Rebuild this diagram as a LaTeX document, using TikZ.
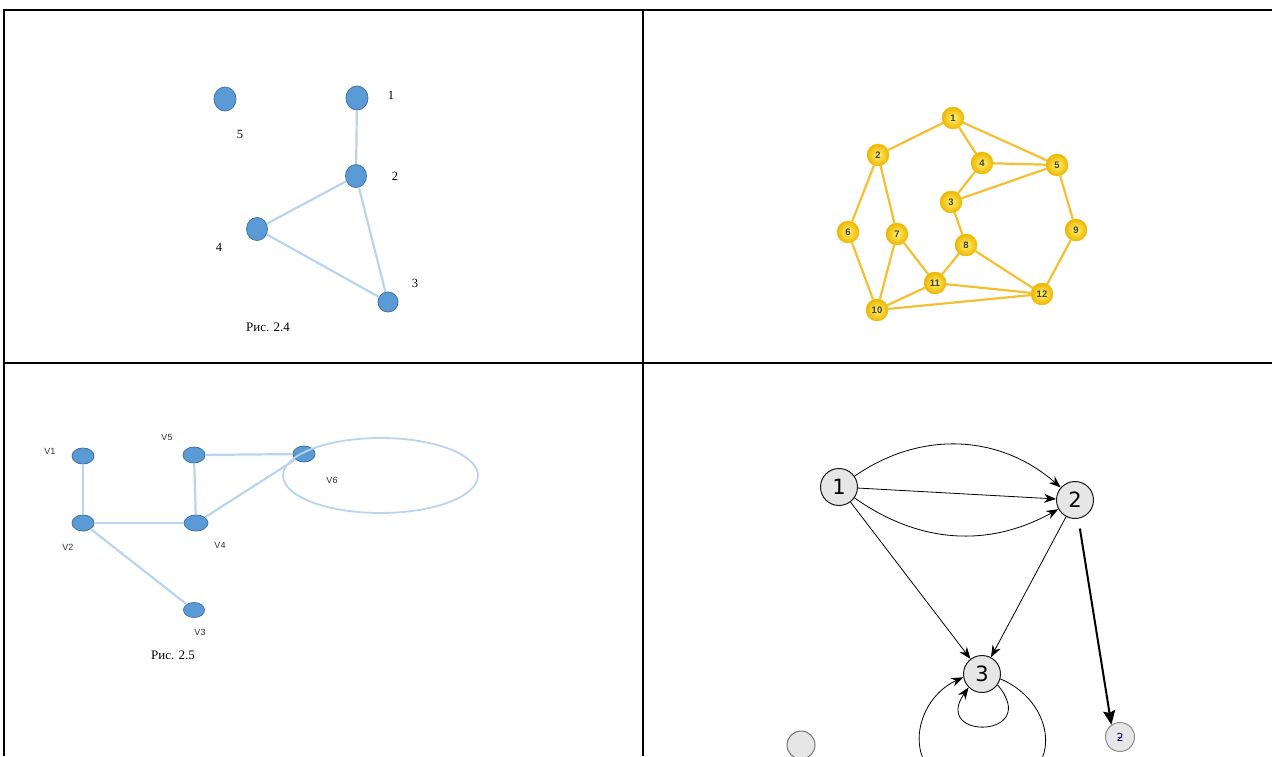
\documentclass[tikz,border=0pt]{standalone}
\usepackage{fontspec}
\setmainfont{Liberation Serif}
\setsansfont{Liberation Sans}
\newfontfamily\dejavu{DejaVu Sans}
\usetikzlibrary{shapes.geometric,arrows.meta}

\definecolor{nodeblue}{RGB}{91,155,213}
\definecolor{nodeborder}{RGB}{65,113,170}
\definecolor{edgeblue}{RGB}{186,212,238}
\definecolor{edgegold}{RGB}{244,192,48}
\definecolor{ballin}{RGB}{255,242,110}
\definecolor{ballout}{RGB}{238,182,0}
\definecolor{nodegray}{RGB}{230,230,230}

\begin{document}
\begin{tikzpicture}[x=1pt,y=1pt,
bluenode/.style={ellipse, draw=nodeborder, fill=nodeblue, line width=0.8pt, inner sep=0pt},
blueedge/.style={draw=edgeblue, line width=2.2pt},
numlabel/.style={font=\fontsize{12.5}{12.5}\selectfont, inner sep=0pt},
vlabel/.style={font=\sffamily\fontsize{9}{9}\selectfont, text=black!80, inner sep=0pt},
captext/.style={font=\fontsize{13}{13}\selectfont, inner sep=0pt},
goldnode/.style={circle, shading=radial, inner color=ballin, outer color=ballout, draw=ballout, line width=0.4pt, minimum size=22pt, inner sep=0pt, font=\sffamily\bfseries\fontsize{9.5}{9.5}\selectfont, text=black!75},
goldedge/.style={draw=edgegold, line width=2.2pt},
graynode/.style={circle, draw=black!90, fill=nodegray, line width=1pt, minimum size=37pt, inner sep=0pt, font=\dejavu\fontsize{21}{21}\selectfont},
diedge/.style={-{Stealth[length=12pt,width=9pt]}, line width=0.8pt},
]
\useasboundingbox (0,0) rectangle (1272,-756);

\draw[line width=2pt] (1272,-10) -- (4,-10);
\draw[line width=2pt] (4,-363) -- (1272,-363);
\draw[line width=1.5pt] (4,-9) -- (4,-756);
\draw[line width=1.5pt] (643,-10) -- (643,-756);

\node[bluenode, minimum width=22pt, minimum height=24pt] at(225,-99) (a5) {};
\node[bluenode, minimum width=22pt, minimum height=24pt] at(357,-98) (a1) {};
\node[bluenode, minimum width=21pt, minimum height=23pt] at(356,-176) (a2) {};
\node[bluenode, minimum width=21pt, minimum height=23pt] at(257,-229) (a4) {};
\node[bluenode, minimum width=20pt, minimum height=20pt] at(388,-302) (a3) {};
\node[numlabel] at(391,-95) (la1) {1};
\node[numlabel] at(395,-176) (la2) {2};
\node[numlabel] at(415,-283) (la3) {3};
\node[numlabel] at(219,-247) (la4) {4};
\node[numlabel] at(240,-134) (la5) {5};
\node[captext] at(268,-327) (cap24) {Рис. 2.4};

\draw[blueedge] (a1) -- (a2);
\draw[blueedge] (a2) -- (a4);
\draw[blueedge] (a2) -- (a3);
\draw[blueedge] (a4) -- (a3);

\node[goldnode] at(953,-118) (g1) {1};
\node[goldnode] at(878,-155) (g2) {2};
\node[goldnode] at(951,-202) (g3) {3};
\node[goldnode] at(982,-163) (g4) {4};
\node[goldnode] at(1057,-165) (g5) {5};
\node[goldnode] at(848,-232) (g6) {6};
\node[goldnode] at(897,-234) (g7) {7};
\node[goldnode] at(966,-245) (g8) {8};
\node[goldnode] at(1076,-230) (g9) {9};
\node[goldnode] at(877,-310) (g10) {10};
\node[goldnode] at(935,-283) (g11) {11};
\node[goldnode] at(1042,-294) (g12) {12};

\draw[goldedge] (g1) -- (g2);
\draw[goldedge] (g1) -- (g4);
\draw[goldedge] (g1) -- (g5);
\draw[goldedge] (g4) -- (g5);
\draw[goldedge] (g4) -- (g3);
\draw[goldedge] (g3) -- (g5);
\draw[goldedge] (g2) -- (g6);
\draw[goldedge] (g2) -- (g7);
\draw[goldedge] (g6) -- (g10);
\draw[goldedge] (g7) -- (g10);
\draw[goldedge] (g7) -- (g11);
\draw[goldedge] (g3) -- (g8);
\draw[goldedge] (g8) -- (g11);
\draw[goldedge] (g8) -- (g12);
\draw[goldedge] (g5) -- (g9);
\draw[goldedge] (g9) -- (g12);
\draw[goldedge] (g11) -- (g12);
\draw[goldedge] (g10) -- (g11);
\draw[goldedge] (g10) -- (g12);

\node[bluenode, minimum width=22pt, minimum height=16pt] at(83,-456) (v1) {};
\node[bluenode, minimum width=22pt, minimum height=16pt] at(83,-523) (v2) {};
\node[bluenode, minimum width=21pt, minimum height=15pt] at(194,-610) (v3) {};
\node[bluenode, minimum width=24pt, minimum height=16pt] at(196,-523) (v4) {};
\node[bluenode, minimum width=22pt, minimum height=16pt] at(194,-455) (v5) {};
\node[bluenode, minimum width=22pt, minimum height=16pt] at(304,-454) (v6) {};
\node[vlabel] at(50,-451) (lv1) {V1};
\node[vlabel] at(68,-547) (lv2) {V2};
\node[vlabel] at(200,-632) (lv3) {V3};
\node[vlabel] at(220,-545) (lv4) {V4};
\node[vlabel] at(167,-437) (lv5) {V5};
\node[vlabel] at(332,-480) (lv6) {V6};
\node[captext] at(173,-655) (cap25) {Рис. 2.5};

\draw[blueedge] (v1) -- (v2);
\draw[blueedge] (v2) -- (v4);
\draw[blueedge] (v5) -- (v4);
\draw[blueedge] (v5) -- (v6);
\draw[blueedge] (v4) -- (v6);
\draw[blueedge] (v2) -- (v3);
\draw[draw=edgeblue, line width=1.8pt] ([shift={(76.5,-21.5)}]v6.center) ellipse [x radius=97.5, y radius=37.5];

\node[graynode] at(839,-487) (p1) {1};
\node[graynode] at(1075,-500) (p2) {2};
\node[graynode] at(982,-674) (p3) {3};
\node[graynode, minimum size=29pt, draw=black!45, font=\dejavu\fontsize{11}{11}\selectfont, text=blue!40!black] at(1120,-737) (p4) {ƻ};
\node[graynode, minimum size=28pt, draw=black!55] at(801,-745) (p5) {};

\draw[diedge] (p1) -- (p2);
\draw[diedge] (p1) to[bend left=38] (p2);
\draw[diedge] (p1) to[bend right=32] (p2);
\draw[diedge] (p1) -- (p3);
\draw[diedge] (p2) -- (p3);
\draw[-{Stealth[length=14pt,width=12pt,inset=2pt]}, line width=2pt, shorten <=10pt] (p2.-80) -- (p4.125);
\draw[diedge] (p3.-35) .. controls +(-50:70) and +(-125:65) .. (p3.-135);
\draw[diedge] (p3.-15) .. controls +(60,-25) and +(85,0) .. ([yshift=-115pt]p3.center)
  .. controls +(-85,0) and +(-55,-25) .. (p3.-170);

\end{tikzpicture}
\end{document}
